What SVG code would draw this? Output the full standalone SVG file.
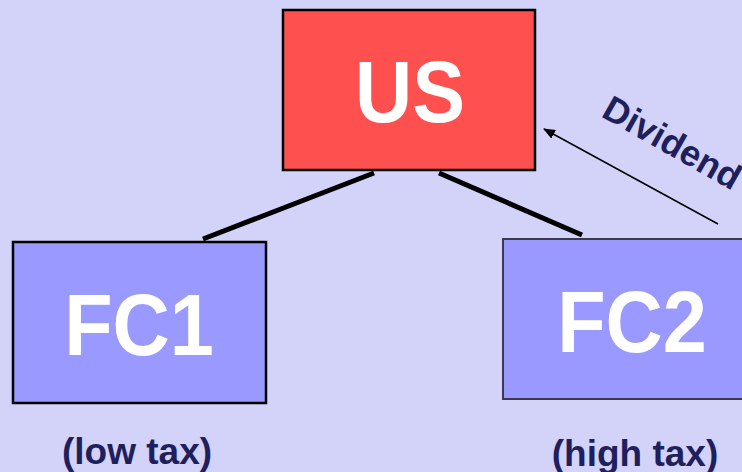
<svg xmlns="http://www.w3.org/2000/svg" width="742" height="472" viewBox="0 0 742 472">
  <defs>
    <style>
      .box { stroke-width: 2.5; }
      .big { font-family: "Liberation Sans", Arial, sans-serif; font-weight: bold; font-size: 88px; fill: #ffffff; text-anchor: middle; }
      .lbl { font-family: "Liberation Sans", Arial, sans-serif; font-weight: bold; font-size: 37px; fill: #1f1f5e; text-anchor: middle; }
      .tie { stroke: #000000; stroke-width: 5; stroke-linecap: butt; }
      .flow { stroke: #000000; stroke-width: 1.5; fill: none; }
    </style>
    <marker id="head" viewBox="0 0 12 10" refX="11" refY="5" markerWidth="12" markerHeight="10" markerUnits="userSpaceOnUse" orient="auto">
      <path d="M0,0 L12,5 L0,10 Z" fill="#000000"/>
    </marker>
  </defs>

  <rect x="0" y="0" width="742" height="472" fill="#d3d3f9"/>

  <!-- ownership links and dividend flow -->
  <g id="connectors">
    <line class="tie" x1="203" y1="239" x2="374" y2="173"/>
    <line class="tie" x1="439" y1="173" x2="582" y2="235"/>
    <line class="flow" x1="718" y1="224" x2="544" y2="129" marker-end="url(#head)"/>
    <text font-family="Liberation Sans, Arial, sans-serif" font-weight="bold" font-size="36" fill="#1f1f5e" transform="translate(600,116) rotate(29.5)">Dividend</text>
  </g>

  <g id="us">
    <rect class="box" x="283" y="10" width="252" height="160" fill="#ff5050" stroke="#000000"/>
    <text class="big" transform="translate(410,122) scale(0.9,1)">US</text>
  </g>

  <g id="fc1">
    <rect class="box" x="13" y="242" width="253" height="161" fill="#9999ff" stroke="#000000"/>
    <text class="big" transform="translate(139,355) scale(0.9,1)">FC1</text>
    <text class="lbl" x="137" y="464">(low tax)</text>
  </g>

  <g id="fc2">
    <rect x="503" y="239" width="260" height="160" fill="#9999ff" stroke="#3a3a4a" stroke-width="2"/>
    <text class="big" transform="translate(632,352) scale(0.9,1)">FC2</text>
    <text class="lbl" x="635" y="466">(high tax)</text>
  </g>
</svg>
